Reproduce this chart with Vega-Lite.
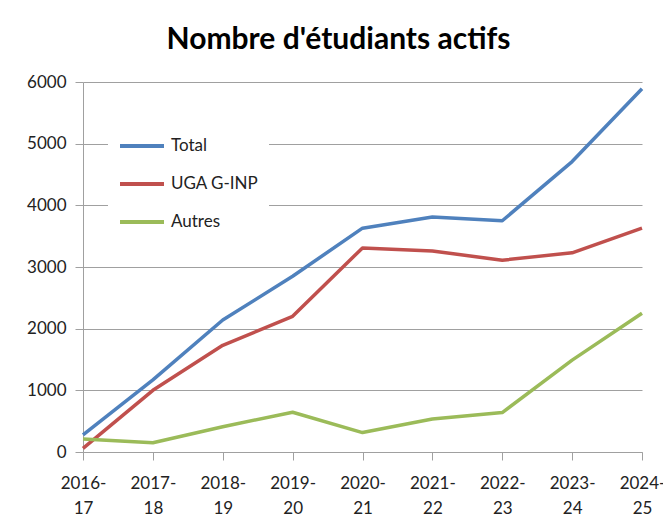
{
  "$schema": "https://vega.github.io/schema/vega-lite/v6.json",
  "width": 559,
  "height": 370,
  "autosize": {"type": "none"},
  "padding": {"left": 83, "top": 82, "right": 21, "bottom": 67},
  "background": "white",
  "title": {
    "text": "Nombre d'étudiants actifs",
    "font": "Lato",
    "fontSize": 30,
    "fontWeight": "bold",
    "color": "#000000",
    "anchor": "middle",
    "dx": -24,
    "offset": 18
  },
  "data": {
    "values": [
      {"year": "2016-17", "serie": "Total", "value": 276},
      {"year": "2017-18", "serie": "Total", "value": 1170},
      {"year": "2018-19", "serie": "Total", "value": 2140},
      {"year": "2019-20", "serie": "Total", "value": 2850},
      {"year": "2020-21", "serie": "Total", "value": 3630},
      {"year": "2021-22", "serie": "Total", "value": 3810},
      {"year": "2022-23", "serie": "Total", "value": 3750},
      {"year": "2023-24", "serie": "Total", "value": 4710},
      {"year": "2024-25", "serie": "Total", "value": 5890},
      {"year": "2016-17", "serie": "UGA G-INP", "value": 60},
      {"year": "2017-18", "serie": "UGA G-INP", "value": 1000},
      {"year": "2018-19", "serie": "UGA G-INP", "value": 1730},
      {"year": "2019-20", "serie": "UGA G-INP", "value": 2200},
      {"year": "2020-21", "serie": "UGA G-INP", "value": 3310},
      {"year": "2021-22", "serie": "UGA G-INP", "value": 3260},
      {"year": "2022-23", "serie": "UGA G-INP", "value": 3110},
      {"year": "2023-24", "serie": "UGA G-INP", "value": 3230},
      {"year": "2024-25", "serie": "UGA G-INP", "value": 3630},
      {"year": "2016-17", "serie": "Autres", "value": 210},
      {"year": "2017-18", "serie": "Autres", "value": 150},
      {"year": "2018-19", "serie": "Autres", "value": 410},
      {"year": "2019-20", "serie": "Autres", "value": 645},
      {"year": "2020-21", "serie": "Autres", "value": 315},
      {"year": "2021-22", "serie": "Autres", "value": 535},
      {"year": "2022-23", "serie": "Autres", "value": 640},
      {"year": "2023-24", "serie": "Autres", "value": 1490},
      {"year": "2024-25", "serie": "Autres", "value": 2250}
    ]
  },
  "mark": {"type": "line", "strokeWidth": 3.5, "strokeJoin": "round"},
  "encoding": {
    "x": {
      "field": "year",
      "type": "ordinal",
      "scale": {"type": "point", "padding": 0},
      "axis": {
        "title": null,
        "labelAngle": 0,
        "grid": false,
        "domainColor": "#a0a0a0",
        "tickColor": "#a0a0a0",
        "tickSize": 8,
        "labelFont": "Lato",
        "labelFontSize": 17,
        "labelColor": "#222222",
        "labelPadding": 15,
        "labelLineHeight": 25,
        "labelExpr": "[slice(datum.value,0,5), slice(datum.value,5)]"
      }
    },
    "y": {
      "field": "value",
      "type": "quantitative",
      "scale": {"domain": [0, 6000]},
      "axis": {
        "title": null,
        "values": [0, 1000, 2000, 3000, 4000, 5000, 6000],
        "format": "d",
        "grid": true,
        "gridColor": "#a0a0a0",
        "domainColor": "#a0a0a0",
        "tickColor": "#a0a0a0",
        "tickSize": 8,
        "labelFont": "Lato",
        "labelFontSize": 17,
        "labelColor": "#222222",
        "labelPadding": 9
      }
    },
    "color": {
      "field": "serie",
      "type": "nominal",
      "scale": {
        "domain": ["Total", "UGA G-INP", "Autres"],
        "range": ["#4f81bd", "#c0504d", "#9bbb59"]
      },
      "legend": {
        "title": null,
        "orient": "none",
        "legendX": 25,
        "legendY": 30,
        "padding": 10,
        "fillColor": "white",
        "symbolType": "stroke",
        "symbolSize": 1936,
        "symbolStrokeWidth": 4,
        "labelFont": "Lato",
        "labelFontSize": 17,
        "labelColor": "#222222",
        "labelOffset": 5,
        "rowPadding": 6
      }
    }
  },
  "config": {
    "view": {"stroke": null},
    "legend": {"rowPadding": 6}
  }
}
